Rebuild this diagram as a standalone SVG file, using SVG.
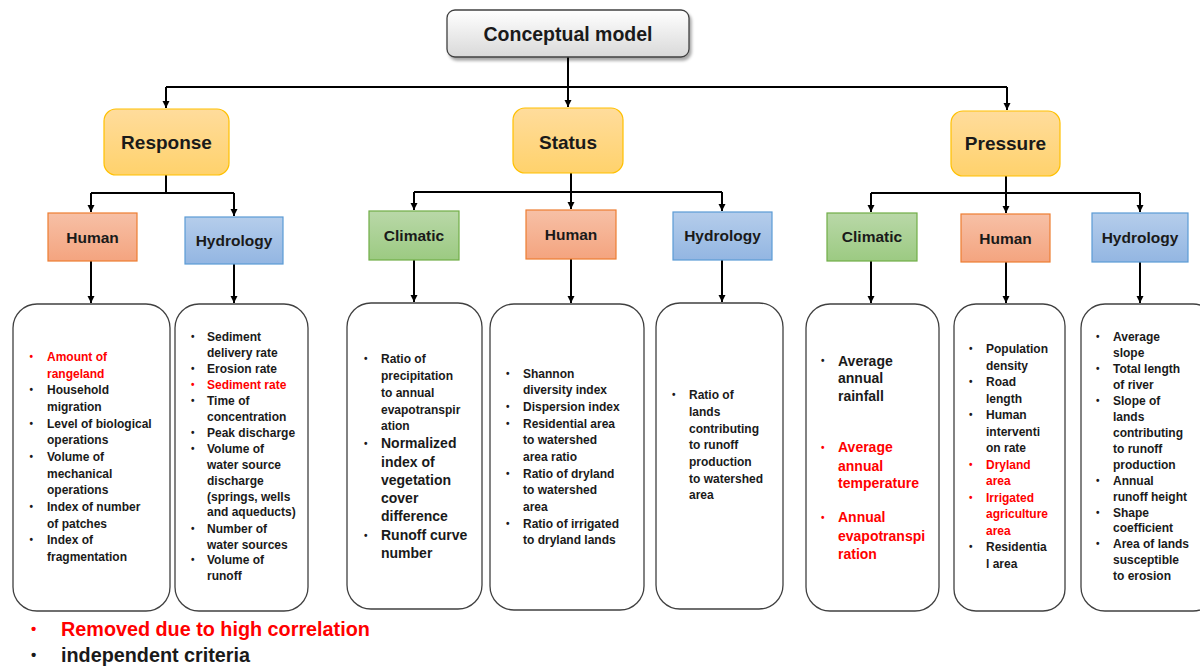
<svg xmlns="http://www.w3.org/2000/svg" width="1200" height="666" viewBox="0 0 1200 666">
<style>
  text { font-family: "Liberation Sans", Arial, sans-serif; font-weight: bold; fill: #1a1a1a; }
  .title { font-size: 19.5px; text-anchor: middle; }
  .main { font-size: 19px; text-anchor: middle; }
  .sub { font-size: 15.5px; text-anchor: middle; }
  .t { font-size: 12px; }
  .tb { font-size: 14px; }
  .b { font-size: 10px; }
  .red { fill: #FF0000; }
  .leg { font-size: 19.8px; }
  .lb { font-size: 15px; }
  .box { fill: #FFFFFF; stroke: #404040; stroke-width: 1.3; }
  .conn { fill: none; stroke: #000000; stroke-width: 2; }
  .arr { marker-end: url(#ah); }
</style>
<defs>
  <linearGradient id="gTop" x1="0" y1="0" x2="0" y2="1">
    <stop offset="0" stop-color="#FFFFFF"/>
    <stop offset="1" stop-color="#D9D9D9"/>
  </linearGradient>
  <linearGradient id="gMain" x1="0" y1="0" x2="0" y2="1">
    <stop offset="0" stop-color="#FFDC9C"/>
    <stop offset="1" stop-color="#FFD26C"/>
  </linearGradient>
  <linearGradient id="gHum" x1="0" y1="0" x2="0" y2="1">
    <stop offset="0" stop-color="#F7C0A6"/>
    <stop offset="1" stop-color="#F4A47F"/>
  </linearGradient>
  <linearGradient id="gHyd" x1="0" y1="0" x2="0" y2="1">
    <stop offset="0" stop-color="#B5CDEB"/>
    <stop offset="1" stop-color="#93B6E2"/>
  </linearGradient>
  <linearGradient id="gCli" x1="0" y1="0" x2="0" y2="1">
    <stop offset="0" stop-color="#B9D8A8"/>
    <stop offset="1" stop-color="#9CCA82"/>
  </linearGradient>
  <filter id="sh" x="-10%" y="-20%" width="120%" height="150%">
    <feDropShadow dx="2" dy="3" stdDeviation="1.5" flood-color="#000000" flood-opacity="0.35"/>
  </filter>
  <marker id="ah" markerWidth="8" markerHeight="8" refX="7" refY="4" orient="auto" markerUnits="userSpaceOnUse">
    <path d="M0,0.5 L7,4 L0,7.5 Z" fill="#000000"/>
  </marker>
</defs>

<g id="connectors">
  <path class="conn arr" d="M568,57 V107"/>
  <path class="conn" d="M166,87 H1007"/>
  <path class="conn arr" d="M166,87 V108"/>
  <path class="conn arr" d="M1007,87 V110"/>
  <path class="conn" d="M166,175 V193 M91,193 H234"/>
  <path class="conn arr" d="M91,193 V212"/>
  <path class="conn arr" d="M234,193 V216"/>
  <path class="conn arr" d="M571,173 V209"/>
  <path class="conn" d="M414,192 H722"/>
  <path class="conn arr" d="M414,192 V210"/>
  <path class="conn arr" d="M722,192 V211"/>
  <path class="conn arr" d="M1006,176 V213"/>
  <path class="conn" d="M871,193 H1140"/>
  <path class="conn arr" d="M871,193 V212"/>
  <path class="conn arr" d="M1140,193 V212"/>
  <path class="conn arr" d="M91,261 V303"/>
  <path class="conn arr" d="M234,264 V303"/>
  <path class="conn arr" d="M414,260 V302"/>
  <path class="conn arr" d="M571,259 V303"/>
  <path class="conn arr" d="M722,260 V302"/>
  <path class="conn arr" d="M871,261 V303"/>
  <path class="conn arr" d="M1006,262 V303"/>
  <path class="conn arr" d="M1140,262 V303"/>
</g>

<g id="conceptual-model">
  <rect x="447" y="10" width="242" height="47" rx="8" fill="url(#gTop)" stroke="#404040" stroke-width="1.3" filter="url(#sh)"/>
  <text class="title" x="568" y="41">Conceptual model</text>
</g>

<g id="response">
  <rect x="104" y="109" width="125" height="66" rx="12" fill="url(#gMain)" stroke="#FFC000" stroke-width="1.2"/>
  <text class="main" x="166.5" y="149">Response</text>
</g>
<g id="status">
  <rect x="513" y="108" width="110" height="65" rx="12" fill="url(#gMain)" stroke="#FFC000" stroke-width="1.2"/>
  <text class="main" x="568" y="149">Status</text>
</g>
<g id="pressure">
  <rect x="951" y="111" width="109" height="65" rx="12" fill="url(#gMain)" stroke="#FFC000" stroke-width="1.2"/>
  <text class="main" x="1005.5" y="150">Pressure</text>
</g>

<g id="response-human">
  <rect x="48" y="213" width="89" height="48" fill="url(#gHum)" stroke="#ED7D31" stroke-width="1.2"/>
  <text class="sub" x="92.5" y="242.5">Human</text>
</g>
<g id="response-hydrology">
  <rect x="185" y="217" width="98" height="47" fill="url(#gHyd)" stroke="#5B9BD5" stroke-width="1.2"/>
  <text class="sub" x="234" y="245.5">Hydrology</text>
</g>
<g id="status-climatic">
  <rect x="369" y="211" width="90" height="49" fill="url(#gCli)" stroke="#70AD47" stroke-width="1.2"/>
  <text class="sub" x="414" y="240.5">Climatic</text>
</g>
<g id="status-human">
  <rect x="526" y="210" width="90" height="49" fill="url(#gHum)" stroke="#ED7D31" stroke-width="1.2"/>
  <text class="sub" x="571" y="240">Human</text>
</g>
<g id="status-hydrology">
  <rect x="673" y="212" width="99" height="48" fill="url(#gHyd)" stroke="#5B9BD5" stroke-width="1.2"/>
  <text class="sub" x="722.5" y="241">Hydrology</text>
</g>
<g id="pressure-climatic">
  <rect x="827" y="213" width="90" height="48" fill="url(#gCli)" stroke="#70AD47" stroke-width="1.2"/>
  <text class="sub" x="872" y="242">Climatic</text>
</g>
<g id="pressure-human">
  <rect x="961" y="214" width="89" height="48" fill="url(#gHum)" stroke="#ED7D31" stroke-width="1.2"/>
  <text class="sub" x="1005.5" y="243.5">Human</text>
</g>
<g id="pressure-hydrology">
  <rect x="1092" y="213" width="96" height="49" fill="url(#gHyd)" stroke="#5B9BD5" stroke-width="1.2"/>
  <text class="sub" x="1140" y="243">Hydrology</text>
</g>

<g id="response-human-criteria">
  <rect class="box" x="13" y="304" width="157" height="307" rx="24"/>
  <text class="b red" x="29.5" y="360">•</text>
  <text class="t red" x="47" y="361">Amount of</text>
  <text class="t red" x="47" y="377.7">rangeland</text>
  <text class="b" x="29.5" y="393.3">•</text>
  <text class="t" x="47" y="394.3">Household</text>
  <text class="t" x="47" y="411">migration</text>
  <text class="b" x="29.5" y="426.7">•</text>
  <text class="t" x="47" y="427.7">Level of biological</text>
  <text class="t" x="47" y="444.3">operations</text>
  <text class="b" x="29.5" y="460">•</text>
  <text class="t" x="47" y="461">Volume of</text>
  <text class="t" x="47" y="477.7">mechanical</text>
  <text class="t" x="47" y="494.3">operations</text>
  <text class="b" x="29.5" y="510">•</text>
  <text class="t" x="47" y="511">Index of number</text>
  <text class="t" x="47" y="527.7">of patches</text>
  <text class="b" x="29.5" y="543.3">•</text>
  <text class="t" x="47" y="544.3">Index of</text>
  <text class="t" x="47" y="561">fragmentation</text>
</g>

<g id="response-hydrology-criteria">
  <rect class="box" x="175" y="304" width="133" height="307" rx="24"/>
  <text class="b" x="191" y="340">•</text>
  <text class="t" x="207" y="341">Sediment</text>
  <text class="t" x="207" y="357">delivery rate</text>
  <text class="b" x="191" y="372.3">•</text>
  <text class="t" x="207" y="373.3">Erosion rate</text>
  <text class="b red" x="191" y="388.3">•</text>
  <text class="t red" x="207" y="389.3">Sediment rate</text>
  <text class="b" x="191" y="403.8">•</text>
  <text class="t" x="207" y="404.8">Time of</text>
  <text class="t" x="207" y="421">concentration</text>
  <text class="b" x="191" y="436">•</text>
  <text class="t" x="207" y="437">Peak discharge</text>
  <text class="b" x="191" y="451.8">•</text>
  <text class="t" x="207" y="452.8">Volume of</text>
  <text class="t" x="207" y="469">water source</text>
  <text class="t" x="207" y="485">discharge</text>
  <text class="t" x="207" y="500.5">(springs, wells</text>
  <text class="t" x="207" y="516.3">and aqueducts)</text>
  <text class="b" x="191" y="531.6">•</text>
  <text class="t" x="207" y="532.6">Number of</text>
  <text class="t" x="207" y="548.6">water sources</text>
  <text class="b" x="191" y="563">•</text>
  <text class="t" x="207" y="564">Volume of</text>
  <text class="t" x="207" y="580">runoff</text>
</g>

<g id="status-climatic-criteria">
  <rect class="box" x="347" y="303" width="135" height="306" rx="24"/>
  <text class="b" x="364" y="362.4">•</text>
  <text class="t" x="381" y="363.4">Ratio of</text>
  <text class="t" x="381" y="380">precipitation</text>
  <text class="t" x="381" y="396.7">to annual</text>
  <text class="t" x="381" y="413.5">evapotranspir</text>
  <text class="t" x="381" y="430">ation</text>
  <text class="b" x="364" y="446.8">•</text>
  <text class="tb" x="381" y="448.3">Normalized</text>
  <text class="tb" x="381" y="466.5">index of</text>
  <text class="tb" x="381" y="484.7">vegetation</text>
  <text class="tb" x="381" y="502.9">cover</text>
  <text class="tb" x="381" y="521.1">difference</text>
  <text class="b" x="364" y="538.5">•</text>
  <text class="tb" x="381" y="540">Runoff curve</text>
  <text class="tb" x="381" y="558">number</text>
</g>

<g id="status-human-criteria">
  <rect class="box" x="490" y="304" width="154" height="306" rx="24"/>
  <text class="b" x="506" y="376.6">•</text>
  <text class="t" x="523" y="377.6">Shannon</text>
  <text class="t" x="523" y="394.3">diversity index</text>
  <text class="b" x="506" y="410">•</text>
  <text class="t" x="523" y="411">Dispersion index</text>
  <text class="b" x="506" y="426.6">•</text>
  <text class="t" x="523" y="427.6">Residential area</text>
  <text class="t" x="523" y="444.3">to watershed</text>
  <text class="t" x="523" y="461">area ratio</text>
  <text class="b" x="506" y="476.6">•</text>
  <text class="t" x="523" y="477.6">Ratio of dryland</text>
  <text class="t" x="523" y="494.3">to watershed</text>
  <text class="t" x="523" y="511">area</text>
  <text class="b" x="506" y="526.6">•</text>
  <text class="t" x="523" y="527.6">Ratio of irrigated</text>
  <text class="t" x="523" y="544.3">to dryland lands</text>
</g>

<g id="status-hydrology-criteria">
  <rect class="box" x="656" y="303" width="127" height="306" rx="24"/>
  <text class="b" x="672" y="398.3">•</text>
  <text class="t" x="689" y="399.3">Ratio of</text>
  <text class="t" x="689" y="416">lands</text>
  <text class="t" x="689" y="432.6">contributing</text>
  <text class="t" x="689" y="449.3">to runoff</text>
  <text class="t" x="689" y="466">production</text>
  <text class="t" x="689" y="482.6">to watershed</text>
  <text class="t" x="689" y="499.3">area</text>
</g>

<g id="pressure-climatic-criteria">
  <rect class="box" x="806" y="304" width="133" height="307" rx="24"/>
  <text class="b" x="821" y="364.2">•</text>
  <text class="tb" x="838" y="365.7">Average</text>
  <text class="tb" x="838" y="383.3">annual</text>
  <text class="tb" x="838" y="401">rainfall</text>
  <text class="b red" x="821" y="450.8">•</text>
  <text class="tb red" x="838" y="452.3">Average</text>
  <text class="tb red" x="838" y="470.5">annual</text>
  <text class="tb red" x="838" y="488.3">temperature</text>
  <text class="b red" x="821" y="520.8">•</text>
  <text class="tb red" x="838" y="522.3">Annual</text>
  <text class="tb red" x="838" y="540.5">evapotranspi</text>
  <text class="tb red" x="838" y="558.8">ration</text>
</g>

<g id="pressure-human-criteria">
  <rect class="box" x="954" y="304" width="111" height="307" rx="22"/>
  <text class="b" x="969" y="352.3">•</text>
  <text class="t" x="986" y="353.3">Population</text>
  <text class="t" x="986" y="369.8">density</text>
  <text class="b" x="969" y="385.3">•</text>
  <text class="t" x="986" y="386.3">Road</text>
  <text class="t" x="986" y="402.8">length</text>
  <text class="b" x="969" y="418.3">•</text>
  <text class="t" x="986" y="419.3">Human</text>
  <text class="t" x="986" y="435.8">interventi</text>
  <text class="t" x="986" y="452.3">on rate</text>
  <text class="b red" x="969" y="467.8">•</text>
  <text class="t red" x="986" y="468.8">Dryland</text>
  <text class="t red" x="986" y="485.3">area</text>
  <text class="b red" x="969" y="500.8">•</text>
  <text class="t red" x="986" y="501.8">Irrigated</text>
  <text class="t red" x="986" y="518.3">agriculture</text>
  <text class="t red" x="986" y="534.8">area</text>
  <text class="b" x="969" y="550.3">•</text>
  <text class="t" x="986" y="551.3">Residentia</text>
  <text class="t" x="986" y="567.8">l area</text>
</g>

<g id="pressure-hydrology-criteria">
  <rect class="box" x="1081" y="304" width="136" height="307" rx="24"/>
  <text class="b" x="1096" y="340">•</text>
  <text class="t" x="1113" y="341">Average</text>
  <text class="t" x="1113" y="357">slope</text>
  <text class="b" x="1096" y="372">•</text>
  <text class="t" x="1113" y="373">Total length</text>
  <text class="t" x="1113" y="389">of river</text>
  <text class="b" x="1096" y="403.8">•</text>
  <text class="t" x="1113" y="404.8">Slope of</text>
  <text class="t" x="1113" y="420.8">lands</text>
  <text class="t" x="1113" y="436.7">contributing</text>
  <text class="t" x="1113" y="452.7">to runoff</text>
  <text class="t" x="1113" y="468.6">production</text>
  <text class="b" x="1096" y="483.6">•</text>
  <text class="t" x="1113" y="484.6">Annual</text>
  <text class="t" x="1113" y="500.5">runoff height</text>
  <text class="b" x="1096" y="515.5">•</text>
  <text class="t" x="1113" y="516.5">Shape</text>
  <text class="t" x="1113" y="532.4">coefficient</text>
  <text class="b" x="1096" y="547.4">•</text>
  <text class="t" x="1113" y="548.4">Area of lands</text>
  <text class="t" x="1113" y="564.3">susceptible</text>
  <text class="t" x="1113" y="580.3">to erosion</text>
</g>

<g id="legend">
  <text class="lb red" x="31" y="634">•</text>
  <text class="leg red" x="61" y="636">Removed due to high correlation</text>
  <text class="lb" x="31" y="660">•</text>
  <text class="leg" x="61" y="662">independent criteria</text>
</g>
</svg>
